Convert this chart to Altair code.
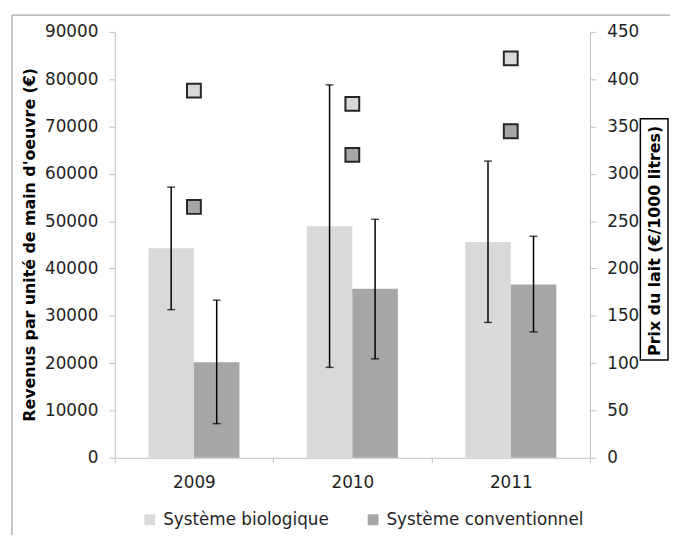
import altair as alt
import pandas as pd

years = ["2009", "2010", "2011"]
series = ["Système biologique", "Système conventionnel"]
bio_revenue = [44300, 48900, 45600]
conv_revenue = [20200, 35700, 36600]
bio_low = [31300, 19100, 28600]
bio_high = [57200, 78800, 62700]
conv_low = [7200, 20900, 26600]
conv_high = [33300, 50400, 46800]
bio_price = [388, 374, 422]
conv_price = [265, 320, 345]

rows = []
for i, y in enumerate(years):
    rows.append({"year": y, "series": series[0], "revenue": bio_revenue[i],
                 "low": bio_low[i], "high": bio_high[i], "price": bio_price[i]})
    rows.append({"year": y, "series": series[1], "revenue": conv_revenue[i],
                 "low": conv_low[i], "high": conv_high[i], "price": conv_price[i]})
df = pd.DataFrame(rows)

colors = ["#d9d9d9", "#a6a6a6"]
axis_gray = "#bfbfbf"
text_col = "#1f1f1f"

x_enc = alt.X("year:N", title=None,
              scale=alt.Scale(paddingInner=0, paddingOuter=0),
              axis=alt.Axis(tickBand="extent", labelAngle=0, tickSize=5,
                            labelPadding=12, labelFontSize=17, labelColor=text_col,
                            domainColor=axis_gray, tickColor=axis_gray))
xoff = alt.XOffset("series:N", scale=alt.Scale(domain=series, paddingOuter=0.74, paddingInner=0))

left_scale = alt.Scale(domain=[0, 90000], nice=False)
left_axis = alt.Axis(values=list(range(0, 90001, 10000)), format="d", grid=False,
                     tickSize=6, labelPadding=11, labelFontSize=17, labelColor=text_col,
                     domainColor=axis_gray, tickColor=axis_gray,
                     title="Revenus par unité de main d'oeuvre (€)",
                     titleFontSize=16, titleFontWeight="bold", titleColor="#000000",
                     titleAngle=270, titleX=-86, titleY=215,
                     titleAlign="center", titleBaseline="middle")

base = alt.Chart(df)

bars = base.mark_bar().encode(
    x=x_enc,
    xOffset=xoff,
    y=alt.Y("revenue:Q", scale=left_scale, axis=left_axis),
    color=alt.Color("series:N", scale=alt.Scale(domain=series, range=colors),
                    legend=alt.Legend(title=None, orient="none", legendX=27, legendY=485,
                                      direction="horizontal", symbolType="square",
                                      symbolSize=121, symbolStrokeWidth=0,
                                      labelFontSize=17, labelColor=text_col,
                                      labelOffset=5, columnPadding=36, labelLimit=400,
                                      padding=0)),
)

rules = base.mark_rule(color="#000000", strokeWidth=1.5).encode(
    x=x_enc, xOffset=xoff,
    y=alt.Y("low:Q", scale=left_scale, axis=left_axis),
    y2="high:Q",
)
cap_hi = base.mark_tick(color="#000000", size=8, thickness=1.5).encode(
    x=x_enc, xOffset=xoff, y=alt.Y("high:Q", scale=left_scale, axis=left_axis))
cap_lo = base.mark_tick(color="#000000", size=8, thickness=1.5).encode(
    x=x_enc, xOffset=xoff, y=alt.Y("low:Q", scale=left_scale, axis=left_axis))

left = alt.layer(bars, rules, cap_hi, cap_lo)

squares = base.mark_point(shape="square", filled=True, size=196, opacity=1,
                          stroke="#262626", strokeWidth=2).encode(
    x=x_enc,
    y=alt.Y("price:Q", scale=alt.Scale(domain=[0, 450], nice=False),
            axis=alt.Axis(orient="right", values=list(range(0, 451, 50)), grid=False,
                          tickSize=6, labelPadding=11, labelFontSize=17,
                          labelColor=text_col, domainColor=axis_gray, tickColor=axis_gray,
                          title="Prix du lait (€/1000 litres)", titleFontSize=16,
                          titleFontWeight="bold", titleColor="#000000",
                          titleAngle=270, titleX=65, titleY=211,
                          titleAlign="center", titleBaseline="middle")),
    fill=alt.Fill("series:N", scale=alt.Scale(domain=series, range=colors), legend=None),
)

deco = alt.Data(values=[{"k": 1}])
frame_top = alt.Chart(deco).mark_rule(color="#8c8c8c", strokeWidth=1).encode(
    x=alt.value(-104), x2=alt.value(580), y=alt.value(-17))
frame_left = alt.Chart(deco).mark_rule(color="#8c8c8c", strokeWidth=1).encode(
    x=alt.value(-104), y=alt.value(-17), y2=alt.value(530))
title_box = alt.Chart(deco).mark_rect(fill=None, stroke="#000000", strokeWidth=1.5).encode(
    x=alt.value(532), x2=alt.value(560), y=alt.value(88), y2=alt.value(332))

chart = alt.layer(left, squares, frame_top, frame_left, title_box).resolve_scale(
    y="independent"
).properties(
    width=481, height=431,
    padding={"left": 108, "top": 21, "right": 81, "bottom": 75},
    autosize=alt.AutoSizeParams(type="none"),
    background="#ffffff",
).configure(font="DejaVu Sans").configure_view(strokeWidth=0)

chart.save("out.html", embed_options={"renderer": "svg", "actions": False})
